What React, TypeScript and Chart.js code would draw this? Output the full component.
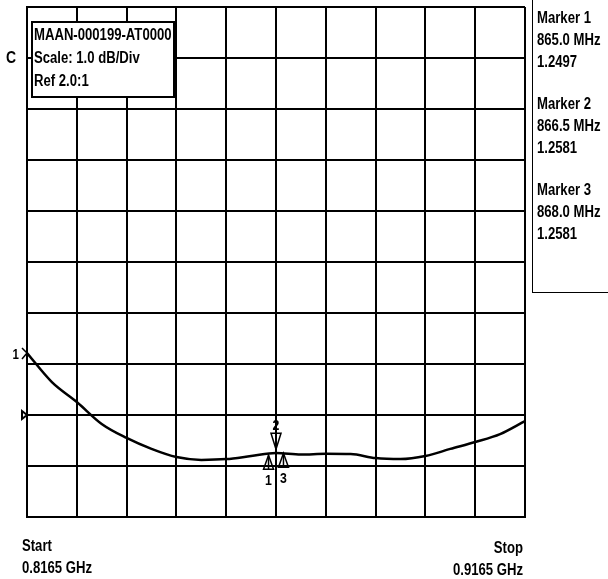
import React, { useEffect, useRef } from "react";
import { Chart, registerables } from "chart.js";

Chart.register(...registerables);

// Sweep data (frequency in MHz, SWR)
const FREQ_MHZ = [816.5, 821.5, 826.5, 831.5, 836.5, 841.5, 846.5, 851.5, 856.5, 861.5, 866.5, 871.5, 876.5, 881.5, 886.5, 891.5, 896.5, 901.5, 906.5, 911.5, 916.5];
const SWR = [1.643, 1.529, 1.451, 1.365, 1.31, 1.267, 1.235, 1.224, 1.227, 1.239, 1.251, 1.245, 1.248, 1.247, 1.231, 1.227, 1.239, 1.267, 1.294, 1.325, 1.376];

const START_MHZ = 816.5;
const STOP_MHZ = 916.5;
const X_DIVS = 10;
const Y_MIN = 1.0;
const Y_MAX = 3.0;
const Y_DIVS = 10;

const MARKER_IDS = ["1", "2", "3"];
const MARKER_FREQ = [865.0, 866.5, 868.0];
const MARKER_VAL = [1.2497, 1.2581, 1.2581];
const MARKER_FREQ_TXT = ["865.0 MHz", "866.5 MHz", "868.0 MHz"];
const MARKER_VAL_TXT = ["1.2497", "1.2581", "1.2581"];

const INFO_LINES = ["MAAN-000199-AT0000", "Scale: 1.0 dB/Div", "Ref 2.0:1"];
const CHANNEL_LABEL = "C";
const REF_VALUE = 1.4;
const START_TXT = ["Start", "0.8165 GHz"];
const STOP_TXT = ["Stop", "0.9165 GHz"];

const FONT = "'Liberation Sans', Arial, sans-serif";
const SX = 0.82; // horizontal condensing, like a narrow face

function txt(ctx: CanvasRenderingContext2D, s: string, x: number, y: number, align: "left" | "right" | "center" = "left") {
  ctx.save();
  ctx.textAlign = "left";
  const w = ctx.measureText(s).width * SX;
  const left = align === "left" ? x : align === "right" ? x - w : x - w / 2;
  ctx.translate(left, y);
  ctx.scale(SX, 1);
  ctx.fillText(s, 0, 0);
  ctx.restore();
}

const overlay = {
  id: "overlay",
  afterDraw(chart: any) {
    const ctx = chart.ctx as CanvasRenderingContext2D;
    const xs = chart.scales.x;
    const ys = chart.scales.y;
    const area = chart.chartArea;
    ctx.save();
    ctx.fillStyle = "#000";
    ctx.strokeStyle = "#000";
    ctx.textBaseline = "alphabetic";

    // Channel label
    ctx.font = `bold 17px ${FONT}`;
    txt(ctx, CHANNEL_LABEL, 6, 63);

    // Info box
    ctx.fillStyle = "#fff";
    ctx.fillRect(32, 22, 142, 75);
    ctx.lineWidth = 2;
    ctx.strokeRect(32, 22, 142, 75);
    ctx.fillStyle = "#000";
    ctx.font = `bold 16px ${FONT}`;
    INFO_LINES.forEach((t, i) => txt(ctx, t, 34, 40 + i * 23));

    // Marker panel
    ctx.lineWidth = 1;
    ctx.strokeRect(532.5, -1, 80, 293.5);
    ctx.font = `bold 16px ${FONT}`;
    MARKER_IDS.forEach((id, i) => {
      const y0 = 23 + i * 86;
      txt(ctx, `Marker ${id}`, 537, y0);
      txt(ctx, MARKER_FREQ_TXT[i], 537, y0 + 22);
      txt(ctx, MARKER_VAL_TXT[i], 537, y0 + 44);
    });

    // Start / Stop
    txt(ctx, START_TXT[0], 22, 551);
    txt(ctx, START_TXT[1], 22, 573);
    txt(ctx, STOP_TXT[0], 523, 553, "right");
    txt(ctx, STOP_TXT[1], 523, 575, "right");

    // Trace start marker "1>"
    const sx = area.left;
    const sy = ys.getPixelForValue(SWR[0]);
    ctx.font = `bold 14px ${FONT}`;
    txt(ctx, "1", sx - 8, sy + 6, "right");
    ctx.lineWidth = 1.5;
    ctx.beginPath();
    ctx.moveTo(sx - 5, sy - 5);
    ctx.lineTo(sx, sy);
    ctx.lineTo(sx - 5, sy + 6);
    ctx.stroke();

    // Reference position triangle
    const ry = ys.getPixelForValue(REF_VALUE);
    ctx.lineWidth = 2;
    ctx.beginPath();
    ctx.moveTo(sx - 5, ry - 4);
    ctx.lineTo(sx, ry);
    ctx.lineTo(sx - 5, ry + 4);
    ctx.closePath();
    ctx.stroke();

    // Markers
    ctx.lineWidth = 1.5;
    ctx.font = `bold 15px ${FONT}`;
    MARKER_FREQ.forEach((f, i) => {
      const mx = xs.getPixelForValue(f);
      const my = ys.getPixelForValue(MARKER_VAL[i]);
      if (MARKER_IDS[i] === "2") {
        ctx.beginPath();
        ctx.moveTo(mx - 5, my - 18);
        ctx.lineTo(mx + 5, my - 18);
        ctx.lineTo(mx, my - 2);
        ctx.closePath();
        ctx.stroke();
        ctx.beginPath();
        ctx.moveTo(mx, my - 18);
        ctx.lineTo(mx, my - 2);
        ctx.stroke();
        txt(ctx, MARKER_IDS[i], mx, my - 21, "center");
      } else {
        ctx.beginPath();
        ctx.moveTo(mx - 5, my + 16);
        ctx.lineTo(mx + 5, my + 16);
        ctx.lineTo(mx, my + 2);
        ctx.closePath();
        ctx.stroke();
        ctx.beginPath();
        ctx.moveTo(mx, my + 2);
        ctx.lineTo(mx, my + 16);
        ctx.stroke();
        txt(ctx, MARKER_IDS[i], mx, my + 32, "center");
      }
    });
    ctx.restore();
  },
};

export default function App() {
  const ref = useRef<HTMLCanvasElement | null>(null);
  useEffect(() => {
    if (!ref.current) return;
    const chart = new Chart(ref.current, {
      type: "line",
      data: {
        datasets: [
          {
            data: FREQ_MHZ.map((f, i) => ({ x: f, y: SWR[i] })),
            borderColor: "#000",
            borderWidth: 2.5,
            pointRadius: 0,
            tension: 0.4,
            cubicInterpolationMode: "monotone",
          },
        ],
      },
      options: {
        responsive: false,
        animation: false,
        layout: { padding: { left: 27, top: 7, right: 83, bottom: 62 } },
        plugins: { legend: { display: false }, tooltip: { enabled: false } },
        scales: {
          x: {
            type: "linear",
            min: START_MHZ,
            max: STOP_MHZ,
            afterBuildTicks: (s: any) => {
              s.ticks = Array.from({ length: X_DIVS + 1 }, (_, i) => ({ value: START_MHZ + (i * (STOP_MHZ - START_MHZ)) / X_DIVS }));
            },
            ticks: { display: false },
            grid: { color: "#000", lineWidth: 2, drawTicks: false },
            border: { color: "#000", width: 2 },
          },
          y: {
            type: "linear",
            min: Y_MIN,
            max: Y_MAX,
            afterBuildTicks: (s: any) => {
              s.ticks = Array.from({ length: Y_DIVS + 1 }, (_, i) => ({ value: Y_MIN + (i * (Y_MAX - Y_MIN)) / Y_DIVS }));
            },
            ticks: { display: false },
            grid: { color: "#000", lineWidth: 2, drawTicks: false },
            border: { color: "#000", width: 2 },
          },
        },
      },
      plugins: [overlay],
    });
    return () => chart.destroy();
  }, []);
  return (
    <div style={{ position: "absolute", left: 0, top: 0, width: 608, height: 579, background: "#fff" }}>
      <canvas ref={ref} width={608} height={579} style={{ display: "block" }} />
    </div>
  );
}
